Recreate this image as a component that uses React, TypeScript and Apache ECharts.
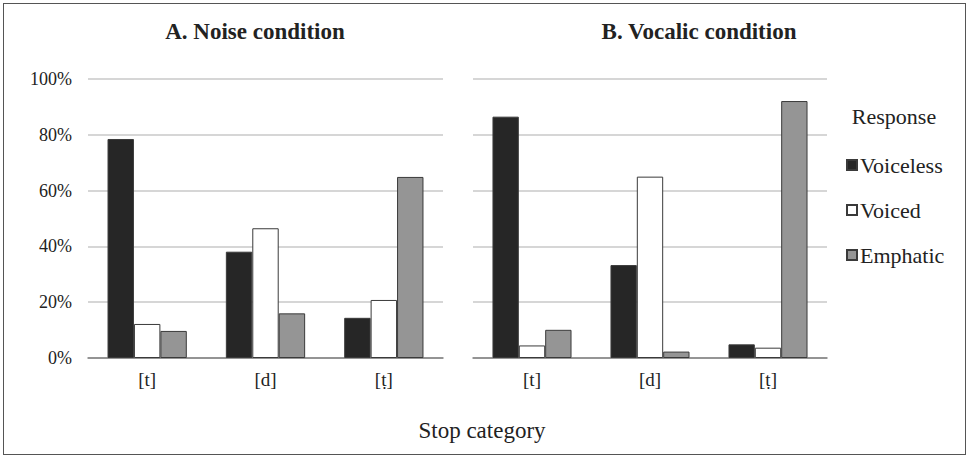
import React, { useEffect, useRef } from "react";
import * as echarts from "echarts";

const categories = ["[t]", "[d]", "[ṭ]"];
const seriesNames = ["Voiceless", "Voiced", "Emphatic"];
const noiseVoiceless = [78.5, 38.1, 14.4];
const noiseVoiced = [12.2, 46.5, 20.8];
const noiseEmphatic = [9.7, 16.0, 64.9];
const vocalicVoiceless = [86.5, 33.3, 4.9];
const vocalicVoiced = [4.5, 65.0, 3.7];
const vocalicEmphatic = [10.1, 2.3, 92.1];
const yTicks = [0, 20, 40, 60, 80, 100];

const FONT = "'Liberation Serif', 'Times New Roman', serif";
const fills = ["#262626", "#ffffff", "#959595"];
const edge = "#3a3a3a";

export default function App() {
  const ref = useRef<HTMLDivElement>(null);

  useEffect(() => {
    if (!ref.current) return;
    const chart = echarts.init(ref.current, null, { renderer: "svg" });

    const panels = [
      [noiseVoiceless, noiseVoiced, noiseEmphatic],
      [vocalicVoiceless, vocalicVoiced, vocalicEmphatic],
    ];

    const series: any[] = [];
    panels.forEach((panel, gi) => {
      panel.forEach((values, si) => {
        series.push({
          type: "bar",
          name: seriesNames[si],
          xAxisIndex: gi,
          yAxisIndex: gi,
          data: values,
          barGap: "0%",
          barCategoryGap: "33%",
          itemStyle: { color: fills[si], borderColor: edge, borderWidth: 1 },
        });
      });
    });

    const xAxisBase = (gi: number) => ({
      type: "category",
      gridIndex: gi,
      data: categories,
      axisTick: { show: false },
      axisLine: { show: true, lineStyle: { color: "#7f7f7f", width: 1.5 } },
      axisLabel: { color: "#222", fontFamily: FONT, fontSize: 19, margin: 12 },
    });

    const yAxisBase = (gi: number) => ({
      type: "value",
      gridIndex: gi,
      min: 0,
      max: 100,
      interval: 20,
      axisLine: { show: false },
      axisTick: { show: false },
      splitLine: { show: true, lineStyle: { color: "#d6d6d6", width: 2 } },
      axisLabel: {
        show: gi === 0,
        color: "#222",
        fontFamily: FONT,
        fontSize: 18,
        margin: 16,
        formatter: (v: number) => (yTicks.includes(v) ? `${v}%` : ""),
      },
    });

    chart.setOption({
      animation: false,
      backgroundColor: "#ffffff",
      grid: [
        { left: 88, top: 79, width: 355, height: 279 },
        { left: 473, top: 79, width: 354, height: 279 },
      ],
      xAxis: [xAxisBase(0), xAxisBase(1)],
      yAxis: [yAxisBase(0), yAxisBase(1)],
      legend: {
        data: seriesNames,
        orient: "vertical",
        left: 841,
        top: 149,
        itemWidth: 10,
        itemHeight: 10,
        itemGap: 23,
        icon: "rect",
        textStyle: { fontFamily: FONT, fontSize: 22, color: "#222", padding: [0, 0, 0, -2] },
      },
      series,
      graphic: [
        {
          type: "text",
          x: 255,
          y: 31,
          style: {
            text: "A. Noise condition",
            font: `bold 23px ${FONT}`,
            fill: "#222",
            align: "center",
            verticalAlign: "middle",
          },
        },
        {
          type: "text",
          x: 699,
          y: 31,
          style: {
            text: "B. Vocalic condition",
            font: `bold 23px ${FONT}`,
            fill: "#222",
            align: "center",
            verticalAlign: "middle",
          },
        },
        {
          type: "text",
          x: 894,
          y: 116,
          style: {
            text: "Response",
            font: `22px ${FONT}`,
            fill: "#222",
            align: "center",
            verticalAlign: "middle",
          },
        },
        {
          type: "text",
          x: 482,
          y: 430,
          style: {
            text: "Stop category",
            font: `23px ${FONT}`,
            fill: "#222",
            align: "center",
            verticalAlign: "middle",
          },
        },
      ],
    });

    return () => chart.dispose();
  }, []);

  return (
    <div style={{ position: "absolute", left: 0, top: 0, width: 969, height: 459, background: "#fff" }}>
      <div ref={ref} style={{ position: "absolute", left: 0, top: 0, width: 969, height: 459 }} />
      <div
        style={{
          position: "absolute",
          left: 3,
          top: 3,
          width: 961,
          height: 450,
          border: "1.5px solid #555",
          pointerEvents: "none",
        }}
      />
    </div>
  );
}
